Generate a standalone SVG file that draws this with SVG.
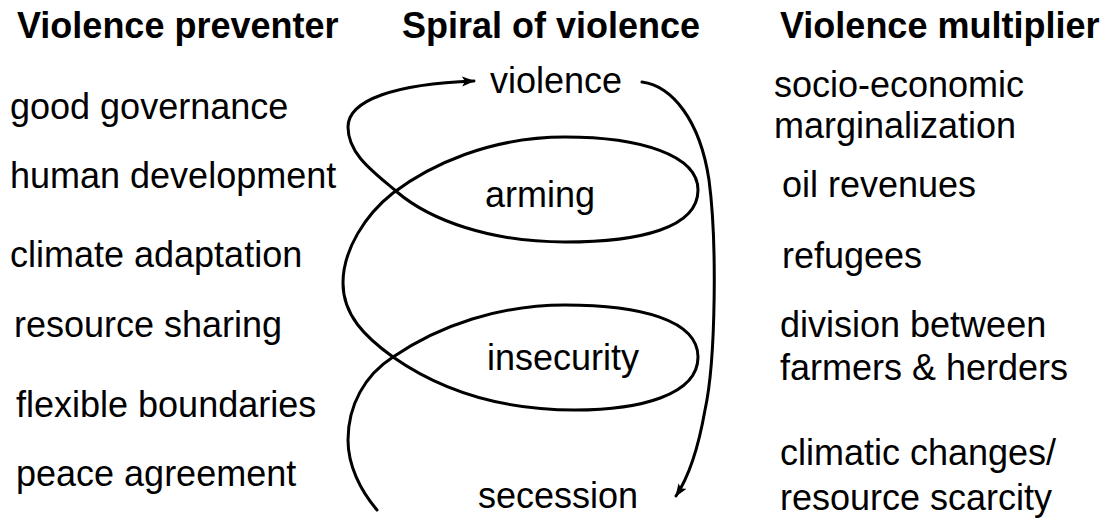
<svg xmlns="http://www.w3.org/2000/svg" width="1112" height="521" viewBox="0 0 1112 521">
  <style>
    text { font-family: "Liberation Sans", Arial, sans-serif; font-size: 36px; fill: #000; }
    .head { font-weight: bold; }
    .flow { fill: none; stroke: #000; stroke-width: 3; stroke-linecap: round; stroke-linejoin: round; }
  </style>
  <defs>
    <marker id="arrow" markerUnits="userSpaceOnUse" markerWidth="14" markerHeight="12" refX="12" refY="5" orient="auto">
      <path d="M0,0 L13,5 L0,10 L3,5 z" fill="#000"/>
    </marker>
  </defs>
  <rect width="1112" height="521" fill="#fff"/>

  <!-- column headings -->
  <g id="heading-preventer"><text class="head" x="17" y="38">Violence preventer</text></g>
  <g id="heading-spiral"><text class="head" x="402" y="38">Spiral of violence</text></g>
  <g id="heading-multiplier"><text class="head" x="780" y="38">Violence multiplier</text></g>

  <!-- preventers -->
  <g id="good-governance"><text x="10" y="119">good governance</text></g>
  <g id="human-development"><text x="10" y="188">human development</text></g>
  <g id="climate-adaptation"><text x="10" y="267">climate adaptation</text></g>
  <g id="resource-sharing"><text x="14" y="337">resource sharing</text></g>
  <g id="flexible-boundaries"><text x="16" y="417">flexible boundaries</text></g>
  <g id="peace-agreement"><text x="16" y="486">peace agreement</text></g>

  <!-- spiral stages -->
  <g id="violence"><text x="490" y="93">violence</text></g>
  <g id="arming"><text x="485" y="207">arming</text></g>
  <g id="insecurity"><text x="487" y="370">insecurity</text></g>
  <g id="secession"><text x="478" y="508">secession</text></g>

  <!-- multipliers -->
  <g id="marginalization"><text x="774" y="97">socio-economic</text><text x="774" y="138">marginalization</text></g>
  <g id="oil-revenues"><text x="782" y="197">oil revenues</text></g>
  <g id="refugees"><text x="782" y="268">refugees</text></g>
  <g id="farmer-herder-division"><text x="780" y="337">division between</text><text x="780" y="380">farmers &amp; herders</text></g>
  <g id="climate-scarcity"><text x="780" y="465">climatic changes/</text><text x="780" y="510">resource scarcity</text></g>

  <!-- connectors -->
  <g id="connectors">
    <!-- spiral rising from the bottom, looping round insecurity and arming, ending at violence -->
    <path class="flow" marker-end="url(#arrow)" d="M377,510
      C360,490 348,465 348,440
      C348,405 365,375 393,357
      C440,325 500,305 565,305
      C640,305 698,320 698,357
      C698,395 640,410 575,410
      C500,410 440,390 393,357
      C365,337 343,315 343,283
      C343,250 365,215 393,193
      C430,165 490,137 565,137
      C640,137 698,155 698,190
      C698,228 640,242 565,242
      C490,242 430,220 397,192
      C375,173 348,155 348,127
      C348,100 395,84 474,81"/>
    <!-- return arc from violence down to secession -->
    <path class="flow" marker-end="url(#arrow)" d="M642,82
      C672,86 700,120 709,180
      C717,240 716,360 705,410
      C698,450 688,478 676,496"/>
  </g>
</svg>
